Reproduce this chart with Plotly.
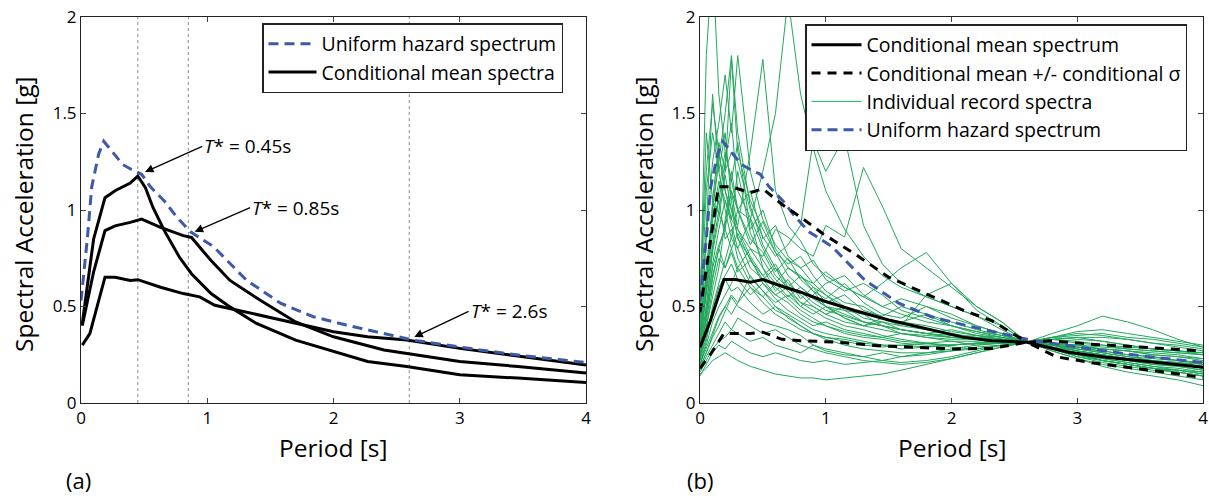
import plotly.graph_objects as go

OFF = 0                      # body margin removed via post_script
FW, FH = 1209, 496
FONT = "Open Sans"


def px(x):
    return (x - OFF) / FW


def py(y):
    return 1 - (y - OFF) / FH


# ---------------- Panel (a) data ----------------
T_uhs = [0.0, 0.05, 0.085, 0.14, 0.18, 0.25, 0.33, 0.40, 0.48, 0.55, 0.66, 0.75, 0.865, 1.05, 1.31, 1.58, 1.84, 2.1, 2.37, 2.63, 3.16, 3.5, 4.0]
Sa_uhs = [0.53, 0.85, 1.12, 1.29, 1.356, 1.30, 1.236, 1.21, 1.185, 1.12, 1.047, 0.97, 0.888, 0.81, 0.637, 0.517, 0.447, 0.404, 0.365, 0.326, 0.275, 0.245, 0.21]

T_cms045 = [0.01, 0.05, 0.1, 0.19, 0.27, 0.39, 0.45, 0.51, 0.57, 0.66, 0.78, 0.875, 1.03, 1.18, 1.39, 1.7, 2.0, 2.27, 2.58, 3.0, 3.46, 4.0]
Sa_cms045 = [0.41, 0.6, 0.85, 1.064, 1.1, 1.14, 1.176, 1.116, 1.013, 0.893, 0.755, 0.67, 0.567, 0.498, 0.412, 0.326, 0.266, 0.215, 0.189, 0.146, 0.129, 0.106]

T_cms085 = [0.01, 0.1, 0.19, 0.27, 0.39, 0.48, 0.63, 0.81, 0.875, 1.03, 1.18, 1.42, 1.7, 2.0, 2.4, 2.58, 3.0, 3.46, 4.0]
Sa_cms085 = [0.40, 0.68, 0.893, 0.918, 0.936, 0.953, 0.91, 0.867, 0.858, 0.738, 0.635, 0.532, 0.42, 0.343, 0.275, 0.258, 0.215, 0.189, 0.155]

T_cms26 = [0.01, 0.07, 0.19, 0.27, 0.39, 0.45, 0.63, 0.81, 0.94, 1.06, 1.24, 1.48, 1.79, 2.0, 2.27, 2.58, 3.0, 3.46, 4.0]
Sa_cms26 = [0.30, 0.36, 0.652, 0.652, 0.635, 0.639, 0.60, 0.567, 0.55, 0.506, 0.481, 0.446, 0.403, 0.369, 0.343, 0.326, 0.283, 0.244, 0.197]

T_star = [0.45, 0.85, 2.6]
T_star_labels = ["0.45s", "0.85s", "2.6s"]

# ---------------- Panel (b) data ----------------
T_cmsb = [0.0, 0.085, 0.19, 0.28, 0.4, 0.5, 0.65, 0.8, 0.98, 1.23, 1.5, 1.8, 2.1, 2.32, 2.6, 2.93, 3.23, 3.54, 4.0]
Sa_cmsb = [0.289, 0.43, 0.64, 0.64, 0.626, 0.64, 0.605, 0.574, 0.53, 0.479, 0.43, 0.384, 0.34, 0.323, 0.315, 0.263, 0.237, 0.216, 0.185]

T_up = [0.0, 0.07, 0.146, 0.25, 0.4, 0.5, 0.65, 0.8, 0.98, 1.23, 1.5, 1.8, 2.1, 2.32, 2.6, 2.8, 3.1, 3.5, 4.0]
Sa_up = [0.47, 0.79, 1.12, 1.12, 1.09, 1.11, 1.03, 0.963, 0.876, 0.773, 0.652, 0.565, 0.479, 0.427, 0.315, 0.322, 0.305, 0.29, 0.27]

T_lo = [0.0, 0.085, 0.19, 0.4, 0.5, 0.65, 0.8, 1.1, 1.41, 1.71, 2.02, 2.32, 2.6, 2.83, 3.1, 3.36, 3.7, 4.0]
Sa_lo = [0.18, 0.254, 0.36, 0.36, 0.367, 0.33, 0.323, 0.315, 0.297, 0.289, 0.28, 0.283, 0.315, 0.24, 0.21, 0.188, 0.16, 0.131]

T_rec = [0, .05, .1, .15, .2, .25, .3, .4, .5, .6, .7, .8, .9, 1.0, 1.15, 1.3, 1.45, 1.6, 1.8, 2.0, 2.2, 2.4, 2.6, 2.8, 3.0, 3.2, 3.4, 3.6, 3.8, 4.0]
records = [
    [0.45, 1.80, 2.30, 1.60, 1.30, 1.15, 1.00, 0.85, 0.78, 0.66, 0.60, 0.58, 0.52, 0.48, 0.45, 0.42, 0.40, 0.38, 0.36, 0.35, 0.34, 0.33, 0.315, 0.29, 0.26, 0.24, 0.22, 0.20, 0.19, 0.17],
    [0.30, 0.85, 1.25, 1.45, 1.70, 1.40, 1.80, 1.20, 0.95, 0.82, 0.74, 0.70, 0.62, 0.56, 0.50, 0.46, 0.44, 0.42, 0.40, 0.37, 0.35, 0.34, 0.315, 0.31, 0.29, 0.28, 0.27, 0.26, 0.25, 0.23],
    [0.26, 0.60, 1.00, 1.30, 1.10, 1.00, 0.92, 1.30, 1.78, 1.10, 0.92, 0.84, 0.72, 0.66, 0.60, 0.55, 0.50, 0.46, 0.42, 0.40, 0.37, 0.35, 0.315, 0.29, 0.27, 0.25, 0.23, 0.21, 0.20, 0.18],
    [0.22, 0.45, 0.70, 0.82, 0.90, 1.10, 1.00, 0.95, 1.20, 1.50, 2.10, 1.60, 1.32, 1.10, 0.90, 0.76, 0.66, 0.60, 0.55, 0.50, 0.45, 0.40, 0.315, 0.30, 0.27, 0.25, 0.23, 0.22, 0.20, 0.19],
    [0.35, 0.70, 1.00, 1.25, 1.50, 1.80, 1.40, 1.02, 0.82, 0.70, 0.62, 0.56, 0.50, 0.46, 0.42, 0.40, 0.38, 0.36, 0.34, 0.33, 0.33, 0.33, 0.315, 0.31, 0.30, 0.29, 0.28, 0.27, 0.26, 0.25],
    [0.28, 0.50, 0.80, 1.00, 1.20, 1.30, 1.25, 1.00, 0.86, 0.76, 0.82, 0.92, 1.36, 1.20, 1.38, 0.92, 0.72, 0.62, 0.55, 0.50, 0.45, 0.38, 0.315, 0.28, 0.24, 0.22, 0.20, 0.18, 0.17, 0.15],
    [0.20, 0.30, 0.42, 0.50, 0.56, 0.62, 0.70, 0.80, 0.76, 0.90, 0.86, 0.80, 0.76, 0.92, 0.86, 1.22, 1.02, 0.80, 0.70, 0.60, 0.50, 0.42, 0.315, 0.27, 0.23, 0.20, 0.18, 0.16, 0.14, 0.12],
    [0.15, 0.18, 0.22, 0.24, 0.26, 0.24, 0.22, 0.19, 0.17, 0.15, 0.14, 0.13, 0.13, 0.12, 0.13, 0.14, 0.15, 0.17, 0.20, 0.23, 0.26, 0.29, 0.315, 0.36, 0.40, 0.45, 0.42, 0.38, 0.33, 0.29],
    [0.24, 0.40, 0.55, 0.70, 0.95, 1.10, 0.90, 0.80, 0.70, 0.62, 0.55, 0.60, 0.54, 0.50, 0.44, 0.40, 0.42, 0.38, 0.36, 0.34, 0.35, 0.33, 0.315, 0.30, 0.28, 0.26, 0.24, 0.22, 0.21, 0.20],
    [0.32, 0.62, 0.95, 1.05, 0.85, 0.90, 0.75, 0.62, 0.55, 0.48, 0.45, 0.40, 0.36, 0.33, 0.30, 0.28, 0.27, 0.26, 0.26, 0.27, 0.28, 0.30, 0.315, 0.33, 0.32, 0.30, 0.29, 0.28, 0.27, 0.26],
    [0.20, 0.28, 0.36, 0.45, 0.50, 0.46, 0.52, 0.60, 0.55, 0.62, 0.70, 0.65, 0.62, 0.68, 0.60, 0.55, 0.62, 0.70, 0.78, 0.62, 0.48, 0.40, 0.315, 0.28, 0.26, 0.22, 0.20, 0.18, 0.16, 0.14],
    [0.40, 1.10, 1.40, 1.20, 1.00, 0.85, 0.80, 0.65, 0.58, 0.50, 0.44, 0.40, 0.36, 0.34, 0.32, 0.30, 0.29, 0.30, 0.31, 0.30, 0.31, 0.32, 0.315, 0.34, 0.36, 0.35, 0.33, 0.31, 0.29, 0.27],
    [0.18, 0.26, 0.34, 0.40, 0.48, 0.55, 0.50, 0.46, 0.42, 0.40, 0.38, 0.35, 0.30, 0.28, 0.26, 0.24, 0.22, 0.21, 0.22, 0.24, 0.27, 0.30, 0.315, 0.33, 0.34, 0.32, 0.30, 0.28, 0.27, 0.25],
    [0.26, 0.46, 0.72, 0.90, 1.05, 0.92, 0.80, 0.95, 0.70, 0.58, 0.64, 0.54, 0.60, 0.52, 0.56, 0.48, 0.45, 0.50, 0.46, 0.40, 0.36, 0.34, 0.315, 0.30, 0.27, 0.25, 0.23, 0.22, 0.21, 0.19],
    [0.30, 0.55, 0.82, 1.10, 1.30, 1.15, 1.35, 0.90, 1.00, 0.80, 0.70, 0.66, 0.60, 0.56, 0.48, 0.46, 0.40, 0.38, 0.36, 0.38, 0.35, 0.33, 0.315, 0.28, 0.24, 0.21, 0.19, 0.17, 0.16, 0.14],
    [0.22, 0.38, 0.60, 0.75, 0.70, 0.80, 0.88, 0.74, 0.66, 0.72, 0.60, 0.52, 0.48, 0.44, 0.40, 0.38, 0.35, 0.33, 0.31, 0.29, 0.28, 0.30, 0.315, 0.31, 0.30, 0.28, 0.27, 0.25, 0.24, 0.22],
    [0.36, 0.90, 1.60, 1.20, 1.40, 1.05, 0.85, 0.75, 0.62, 0.56, 0.52, 0.46, 0.42, 0.40, 0.36, 0.34, 0.33, 0.31, 0.30, 0.30, 0.31, 0.31, 0.315, 0.30, 0.28, 0.27, 0.25, 0.24, 0.22, 0.21],
    [0.17, 0.24, 0.30, 0.36, 0.42, 0.38, 0.44, 0.40, 0.36, 0.38, 0.34, 0.30, 0.28, 0.26, 0.24, 0.22, 0.21, 0.20, 0.21, 0.23, 0.26, 0.29, 0.315, 0.34, 0.37, 0.38, 0.36, 0.34, 0.32, 0.30],
    [0.28, 0.50, 0.78, 0.96, 1.18, 1.00, 0.86, 0.70, 0.64, 0.70, 0.58, 0.50, 0.56, 0.62, 0.66, 0.56, 0.50, 0.54, 0.50, 0.44, 0.40, 0.36, 0.315, 0.28, 0.25, 0.23, 0.21, 0.19, 0.18, 0.16],
    [0.24, 0.36, 0.48, 0.60, 0.66, 0.72, 0.64, 0.56, 0.62, 0.54, 0.48, 0.44, 0.40, 0.42, 0.38, 0.36, 0.34, 0.36, 0.34, 0.32, 0.30, 0.31, 0.315, 0.33, 0.31, 0.30, 0.28, 0.27, 0.26, 0.25],
    [0.55, 1.20, 1.55, 1.30, 1.10, 0.95, 0.90, 0.76, 0.66, 0.60, 0.54, 0.48, 0.44, 0.40, 0.37, 0.35, 0.34, 0.32, 0.31, 0.32, 0.32, 0.33, 0.315, 0.29, 0.26, 0.23, 0.21, 0.19, 0.17, 0.15],
    [0.20, 0.32, 0.50, 0.62, 0.75, 0.86, 1.00, 0.82, 0.94, 0.78, 0.72, 0.76, 0.66, 0.58, 0.52, 0.50, 0.44, 0.42, 0.46, 0.42, 0.38, 0.35, 0.315, 0.29, 0.26, 0.24, 0.22, 0.20, 0.19, 0.17],
    [0.32, 0.58, 0.88, 1.05, 1.25, 1.45, 1.10, 0.96, 0.80, 0.68, 0.75, 0.64, 0.58, 0.50, 0.48, 0.42, 0.40, 0.36, 0.35, 0.34, 0.33, 0.33, 0.315, 0.30, 0.27, 0.25, 0.23, 0.21, 0.20, 0.18],
    [0.16, 0.22, 0.28, 0.32, 0.34, 0.38, 0.36, 0.32, 0.34, 0.30, 0.28, 0.26, 0.30, 0.27, 0.25, 0.24, 0.26, 0.24, 0.25, 0.27, 0.29, 0.30, 0.315, 0.34, 0.35, 0.36, 0.34, 0.33, 0.31, 0.29],
    [0.26, 0.44, 0.66, 0.80, 0.92, 1.20, 1.00, 1.10, 0.85, 0.92, 0.76, 0.70, 0.74, 0.64, 0.58, 0.62, 0.56, 0.48, 0.44, 0.40, 0.37, 0.34, 0.315, 0.28, 0.25, 0.22, 0.20, 0.18, 0.16, 0.14],
    [0.22, 0.34, 0.46, 0.55, 0.64, 0.58, 0.60, 0.52, 0.46, 0.50, 0.46, 0.42, 0.38, 0.36, 0.34, 0.32, 0.30, 0.28, 0.29, 0.30, 0.31, 0.33, 0.315, 0.34, 0.33, 0.32, 0.30, 0.28, 0.27, 0.26],
    [0.30, 0.60, 1.05, 1.35, 1.20, 1.78, 1.30, 1.05, 0.90, 0.78, 0.66, 0.60, 0.55, 0.50, 0.46, 0.42, 0.40, 0.38, 0.36, 0.34, 0.33, 0.32, 0.315, 0.30, 0.28, 0.26, 0.24, 0.23, 0.22, 0.20],
    [0.19, 0.26, 0.35, 0.44, 0.50, 0.56, 0.52, 0.66, 0.58, 0.52, 0.56, 0.50, 0.46, 0.50, 0.44, 0.40, 0.44, 0.40, 0.56, 0.62, 0.50, 0.42, 0.315, 0.27, 0.23, 0.19, 0.16, 0.14, 0.12, 0.09],
    [0.34, 0.64, 0.95, 1.15, 1.05, 0.95, 1.20, 0.88, 0.74, 0.64, 0.58, 0.52, 0.50, 0.46, 0.50, 0.44, 0.42, 0.40, 0.38, 0.36, 0.34, 0.33, 0.315, 0.30, 0.29, 0.27, 0.25, 0.24, 0.22, 0.21],
    [0.14, 0.20, 0.26, 0.30, 0.28, 0.32, 0.30, 0.26, 0.24, 0.26, 0.24, 0.22, 0.21, 0.22, 0.20, 0.21, 0.22, 0.24, 0.26, 0.28, 0.30, 0.31, 0.315, 0.33, 0.34, 0.34, 0.33, 0.31, 0.30, 0.28],
    [0.50, 1.40, 1.05, 0.98, 0.90, 0.80, 0.70, 0.60, 0.52, 0.46, 0.42, 0.38, 0.36, 0.34, 0.33, 0.31, 0.30, 0.30, 0.29, 0.30, 0.31, 0.31, 0.315, 0.30, 0.29, 0.28, 0.27, 0.25, 0.24, 0.23],
    [0.24, 0.42, 0.64, 0.80, 0.70, 0.78, 0.68, 0.74, 0.64, 0.56, 0.60, 0.66, 0.58, 0.54, 0.62, 0.52, 0.46, 0.44, 0.50, 0.46, 0.40, 0.36, 0.315, 0.28, 0.25, 0.22, 0.20, 0.18, 0.17, 0.16],
]

x_ticks = [0, 1, 2, 3, 4]
y_ticks = [0, 0.5, 1, 1.5, 2]
y_tick_text = ["0", "0.5", "1", "1.5", "2"]

BLUE = "#3d5aa9"
GREEN = "#22a85c"

fig = go.Figure()

# ---- panel (a)
fig.add_trace(go.Scatter(x=T_cms045, y=Sa_cms045, mode="lines", line=dict(color="black", width=3),
                         name="Conditional mean spectra", legend="legend", legendrank=2, xaxis="x", yaxis="y"))
fig.add_trace(go.Scatter(x=T_cms085, y=Sa_cms085, mode="lines", line=dict(color="black", width=3),
                         showlegend=False, xaxis="x", yaxis="y"))
fig.add_trace(go.Scatter(x=T_cms26, y=Sa_cms26, mode="lines", line=dict(color="black", width=3),
                         showlegend=False, xaxis="x", yaxis="y"))
fig.add_trace(go.Scatter(x=T_uhs, y=Sa_uhs, mode="lines", line=dict(color=BLUE, width=3, dash="10px,6px"),
                         name="Uniform hazard spectrum", legend="legend", legendrank=1, xaxis="x", yaxis="y"))

# ---- panel (b)
for i, rec in enumerate(records):
    fig.add_trace(go.Scatter(x=T_rec, y=rec, mode="lines", line=dict(color=GREEN, width=1),
                             name="Individual record spectra", legend="legend2", legendrank=3,
                             showlegend=(i == 0), xaxis="x2", yaxis="y2"))
fig.add_trace(go.Scatter(x=T_uhs, y=Sa_uhs, mode="lines", line=dict(color=BLUE, width=3, dash="10px,6px"),
                         name="Uniform hazard spectrum", legend="legend2", legendrank=4, xaxis="x2", yaxis="y2"))
fig.add_trace(go.Scatter(x=T_up, y=Sa_up, mode="lines", line=dict(color="black", width=3, dash="9px,7px"),
                         name="Conditional mean +/- conditional σ", legend="legend2", legendrank=2, xaxis="x2", yaxis="y2"))
fig.add_trace(go.Scatter(x=T_lo, y=Sa_lo, mode="lines", line=dict(color="black", width=3, dash="9px,7px"),
                         showlegend=False, xaxis="x2", yaxis="y2"))
fig.add_trace(go.Scatter(x=T_cmsb, y=Sa_cmsb, mode="lines", line=dict(color="black", width=3),
                         name="Conditional mean spectrum", legend="legend2", legendrank=1, xaxis="x2", yaxis="y2"))

# dotted vertical lines at T*
shapes = []
for t in T_star:
    shapes.append(dict(type="line", xref="x", yref="y domain", x0=t, x1=t, y0=0, y1=1,
                       line=dict(color="#8a8a8a", width=1, dash="dot"), layer="below"))

# arrow annotations
heads = [(0.507, 1.197), (0.90, 0.887), (2.64, 0.342)]
tails = [(0.96, 1.33), (1.34, 1.012), (3.07, 0.475)]
annotations = []
for (hx, hy), (tx, ty), lab in zip(heads, tails, T_star_labels):
    annotations.append(dict(x=hx, y=hy, ax=tx, ay=ty, xref="x", yref="y", axref="x", ayref="y",
                            text="<i>T</i>* = " + lab, showarrow=True, arrowhead=2, arrowsize=1.3,
                            arrowwidth=1.3, arrowcolor="black", xanchor="left", yanchor="middle",
                            font=dict(family=FONT, size=19, color="black")))

title_font = dict(family=FONT, size=24.5, color="black")
annotations += [
    dict(text="Spectral Acceleration [g]", x=px(24), y=py(214), xref="paper", yref="paper",
         showarrow=False, textangle=-90, font=title_font, xanchor="center", yanchor="middle"),
    dict(text="Spectral Acceleration [g]", x=px(644), y=py(214), xref="paper", yref="paper",
         showarrow=False, textangle=-90, font=title_font, xanchor="center", yanchor="middle"),
    dict(text="Period [s]", x=px((81 + 586) / 2), y=py(447), xref="paper", yref="paper",
         showarrow=False, font=title_font, xanchor="center", yanchor="middle"),
    dict(text="Period [s]", x=px((700 + 1204) / 2), y=py(447), xref="paper", yref="paper",
         showarrow=False, font=title_font, xanchor="center", yanchor="middle"),
    dict(text="(a)", x=px(78), y=py(480), xref="paper", yref="paper",
         showarrow=False, font=dict(family=FONT, size=22, color="black"), xanchor="center", yanchor="middle"),
    dict(text="(b)", x=px(700), y=py(480), xref="paper", yref="paper",
         showarrow=False, font=dict(family=FONT, size=22, color="black"), xanchor="center", yanchor="middle"),
]

axis_common = dict(showline=True, linecolor="#222", linewidth=1, mirror="ticks", ticks="inside",
                   ticklen=5, tickcolor="#444", showgrid=False, zeroline=False, automargin=False,
                   ticklabeloverflow="allow",
                   tickfont=dict(family=FONT, size=17, color="black"))

fig.update_layout(
    width=FW, height=FH, margin=dict(l=0, r=0, t=0, b=0, autoexpand=False),
    paper_bgcolor="white", plot_bgcolor="white",
    font=dict(family=FONT, color="black"),
    xaxis=dict(domain=[px(81), px(586)], range=[0, 4], tickvals=x_ticks, anchor="y", **axis_common),
    yaxis=dict(domain=[py(403), py(17)], range=[0, 2], tickvals=y_ticks, ticktext=y_tick_text, anchor="x", **axis_common),
    xaxis2=dict(domain=[px(700), px(1203)], range=[0, 4], tickvals=x_ticks, anchor="y2", **axis_common),
    yaxis2=dict(domain=[py(403), py(17)], range=[0, 2], tickvals=y_ticks, ticktext=y_tick_text, anchor="x2", **axis_common),
    legend=dict(x=px(262), y=py(23), xanchor="left", yanchor="top", bgcolor="white",
                bordercolor="#222", borderwidth=1.5, itemwidth=48, tracegroupgap=0,
                font=dict(family=FONT, size=19.5, color="black")),
    legend2=dict(x=px(805), y=py(24), xanchor="left", yanchor="top", bgcolor="white",
                 bordercolor="#222", borderwidth=1.5, itemwidth=50, tracegroupgap=0,
                 font=dict(family=FONT, size=19.5, color="black")),
    shapes=shapes,
    annotations=annotations,
)

fig.write_html("out.html", config={"displayModeBar": False},
               post_script="document.body.style.margin='0';document.body.style.overflow='hidden';")
